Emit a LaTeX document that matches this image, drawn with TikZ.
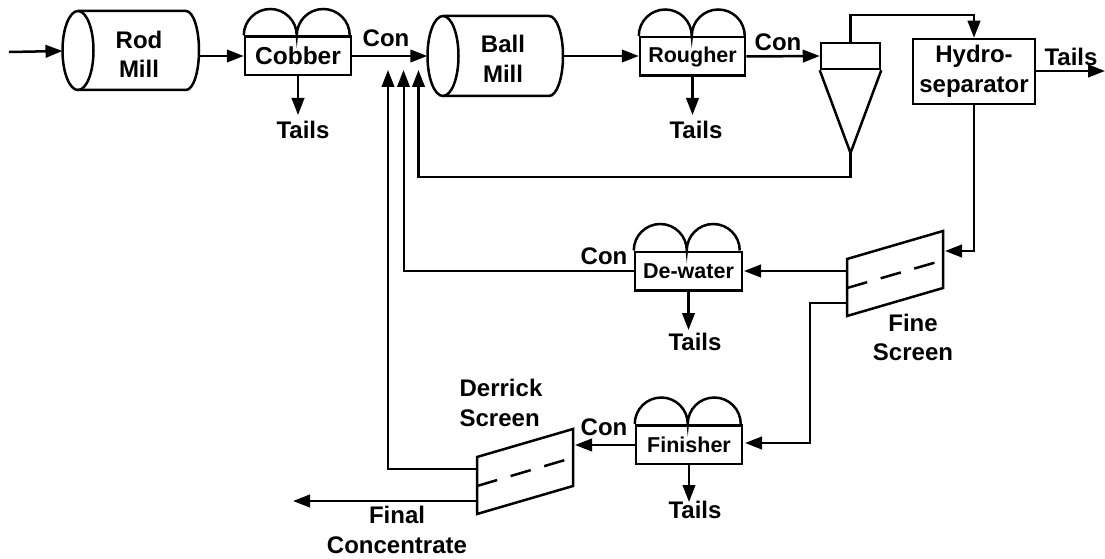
\documentclass[tikz,border=0pt]{standalone}
\usepackage{fontspec}
\setmainfont{Liberation Sans}
\usetikzlibrary{arrows.meta}
\tikzset{
  line/.style={draw=black,line width=2.5pt},
  flow/.style={line,-{Triangle[length=17pt,width=12.5pt]}},
  lbl/.style={inner sep=0pt,align=center,font=\bfseries\fontsize{24}{29.5}\selectfont},
  cell/.style={line,rectangle,inner sep=0pt,minimum width=#1,minimum height=38.5pt,font=\bfseries\fontsize{21.5}{26}\selectfont},
  ghost/.style={rectangle,inner sep=0pt},
}
\newcommand{\domes}[1]{\draw[line] (#1.north west) arc[start angle=180,end angle=0,radius=26.5pt] arc[start angle=180,end angle=0,radius=26.5pt];}
\begin{document}
\begin{tikzpicture}[x=1pt,y=-1pt]
\useasboundingbox (0,0) rectangle (1105,559);
% mills
\node[ghost,minimum width=136.5pt,minimum height=79pt] (rod) at (130.75,50.5) {};
\node[ghost,minimum width=135.5pt,minimum height=80pt] (ball) at (495.25,56) {};
\draw[line] (78,11) arc[x radius=15.5pt,y radius=39.5pt,start angle=90,end angle=450];
\draw[line] (78,11) -- (186,11) arc[x radius=13pt,y radius=39.5pt,start angle=90,end angle=-90] -- (78,90);
\draw[line] (443,16) arc[x radius=15.5pt,y radius=40pt,start angle=90,end angle=450];
\draw[line] (443,16) -- (549,16) arc[x radius=14pt,y radius=40pt,start angle=90,end angle=-90] -- (443,96);
\node[lbl] (rodl) at (139,54.5) {Rod\\Mill};
\node[lbl] (balll) at (503,59) {Ball\\Mill};
% flotation cells
\node[cell=106pt] (cobber) at (298,56) {\fontsize{24.5}{26}\selectfont Cobber};
\node[cell=105pt] (rougher) at (692.5,56.5) {Rougher};
\node[cell=107pt] (dewater) at (688.5,271) {De-water};
\node[cell=106pt] (finisher) at (689,444.5) {Finisher};
\domes{cobber}\domes{rougher}\domes{dewater}\domes{finisher}
% cyclone
\node[line,rectangle,inner sep=0pt,minimum width=59pt,minimum height=26pt] (cyc) at (850.5,56) {};
\coordinate (apex) at (850.5,153);
\draw[line] (cyc.south west) -- (apex) -- (cyc.south east);
% hydroseparator
\node[line,rectangle,inner sep=0pt,minimum width=122pt,minimum height=65pt,lbl] (hydro) at (974,71.5) {Hydro-\\separator};
% screens
\coordinate (fa) at (847,259); \coordinate (fb) at (943,231); \coordinate (fc) at (943,288); \coordinate (fd) at (847,316);
\draw[line] (fa) -- (fb) -- (fc) -- (fd) -- cycle;
\coordinate (fdl) at (847,288); \coordinate (fdr) at (937,262);
\draw[line,dash pattern=on 21pt off 14pt] (fdl) -- (fdr);
\coordinate (da) at (477,457); \coordinate (db) at (573,429); \coordinate (dc) at (573,486); \coordinate (dd) at (477,514);
\draw[line] (da) -- (db) -- (dc) -- (dd) -- cycle;
\coordinate (ddl) at (477,486); \coordinate (ddr) at (565,460);
\draw[line,dash pattern=on 21pt off 14pt] (ddl) -- (ddr);
% free ends
\coordinate (feed) at (9,52);
\coordinate (rodin) at (62.5,51);
\coordinate (ftip) at (945,251);
\coordinate (fout1) at (847,270);
\coordinate (fout2) at (847,303);
\coordinate (dout1) at (477,469);
\coordinate (dout2) at (477,501);
\coordinate (dtip) at (575,445);
\coordinate (conc) at (293,501);
\coordinate (ht) at (1105,71);
\coordinate (r1) at (388,70);
\coordinate (r2) at (403.5,70);
\coordinate (r3) at (418.5,70);
\coordinate (dwtip) at (744,271);
\coordinate (fntip) at (745,443);
% connectors
\draw[flow] (feed) -- (rodin);
\draw[flow] (rod.east |- cobber.west) -- (cobber.west);
\draw[flow] (cobber.east) -- (ball.west);
\draw[flow] (ball.east) -- (rougher.west |- ball.east);
\draw[flow] (rougher.east) -- (cyc.west);
\draw[flow] (cyc.north) -- (cyc.north |- 0,15) -- (hydro.north |- 0,15) -- (hydro.north);
\draw[flow] (hydro.east |- ht) -- (ht);
\draw[flow] (hydro.south) -- (hydro.south |- ftip) -- (ftip);
\draw[flow] (apex) -- (apex |- 0,177) -- (r3 |- 0,177) -- (r3);
\draw[flow] (fout1 |- dwtip) -- (dwtip);
\draw[flow,line width=2pt] (dewater.west) -- (r2 |- dewater.west) -- (r2);
\draw[flow] (fout2) -- (810,303) -- (810,443) -- (fntip);
\draw[flow] (finisher.west |- dtip) -- (dtip);
\draw[flow] (dout1) -- (r1 |- dout1) -- (r1);
\draw[flow] (dout2) -- (conc);
\draw[flow] (cobber.south) -- (cobber.south |- 0,115);
\draw[flow] (rougher.south) -- (rougher.south |- 0,115);
\draw[flow] (dewater.south) -- (dewater.south |- 0,330);
\draw[flow] (finisher.south) -- (finisher.south |- 0,502);
% labels
\node[lbl] (tl1) at (303,130) {Tails};
\node[lbl] (tl2) at (696,130) {Tails};
\node[lbl] (tl3) at (695,342) {Tails};
\node[lbl] (tl4) at (695,510) {Tails};
\node[lbl] (tl5) at (1071,57) {Tails};
\node[lbl] (c1) at (386,38) {Con};
\node[lbl] (c2) at (778,42) {Con};
\node[lbl] (c3) at (604,256) {Con};
\node[lbl] (c4) at (604,427) {Con};
\node[lbl] (fine) at (913,337.5) {Fine\\Screen};
\node[lbl,align=left] (derr) at (501,403) {Derrick\\Screen};
\node[lbl] (final) at (397,530) {Final\\Concentrate};
\end{tikzpicture}
\end{document}
